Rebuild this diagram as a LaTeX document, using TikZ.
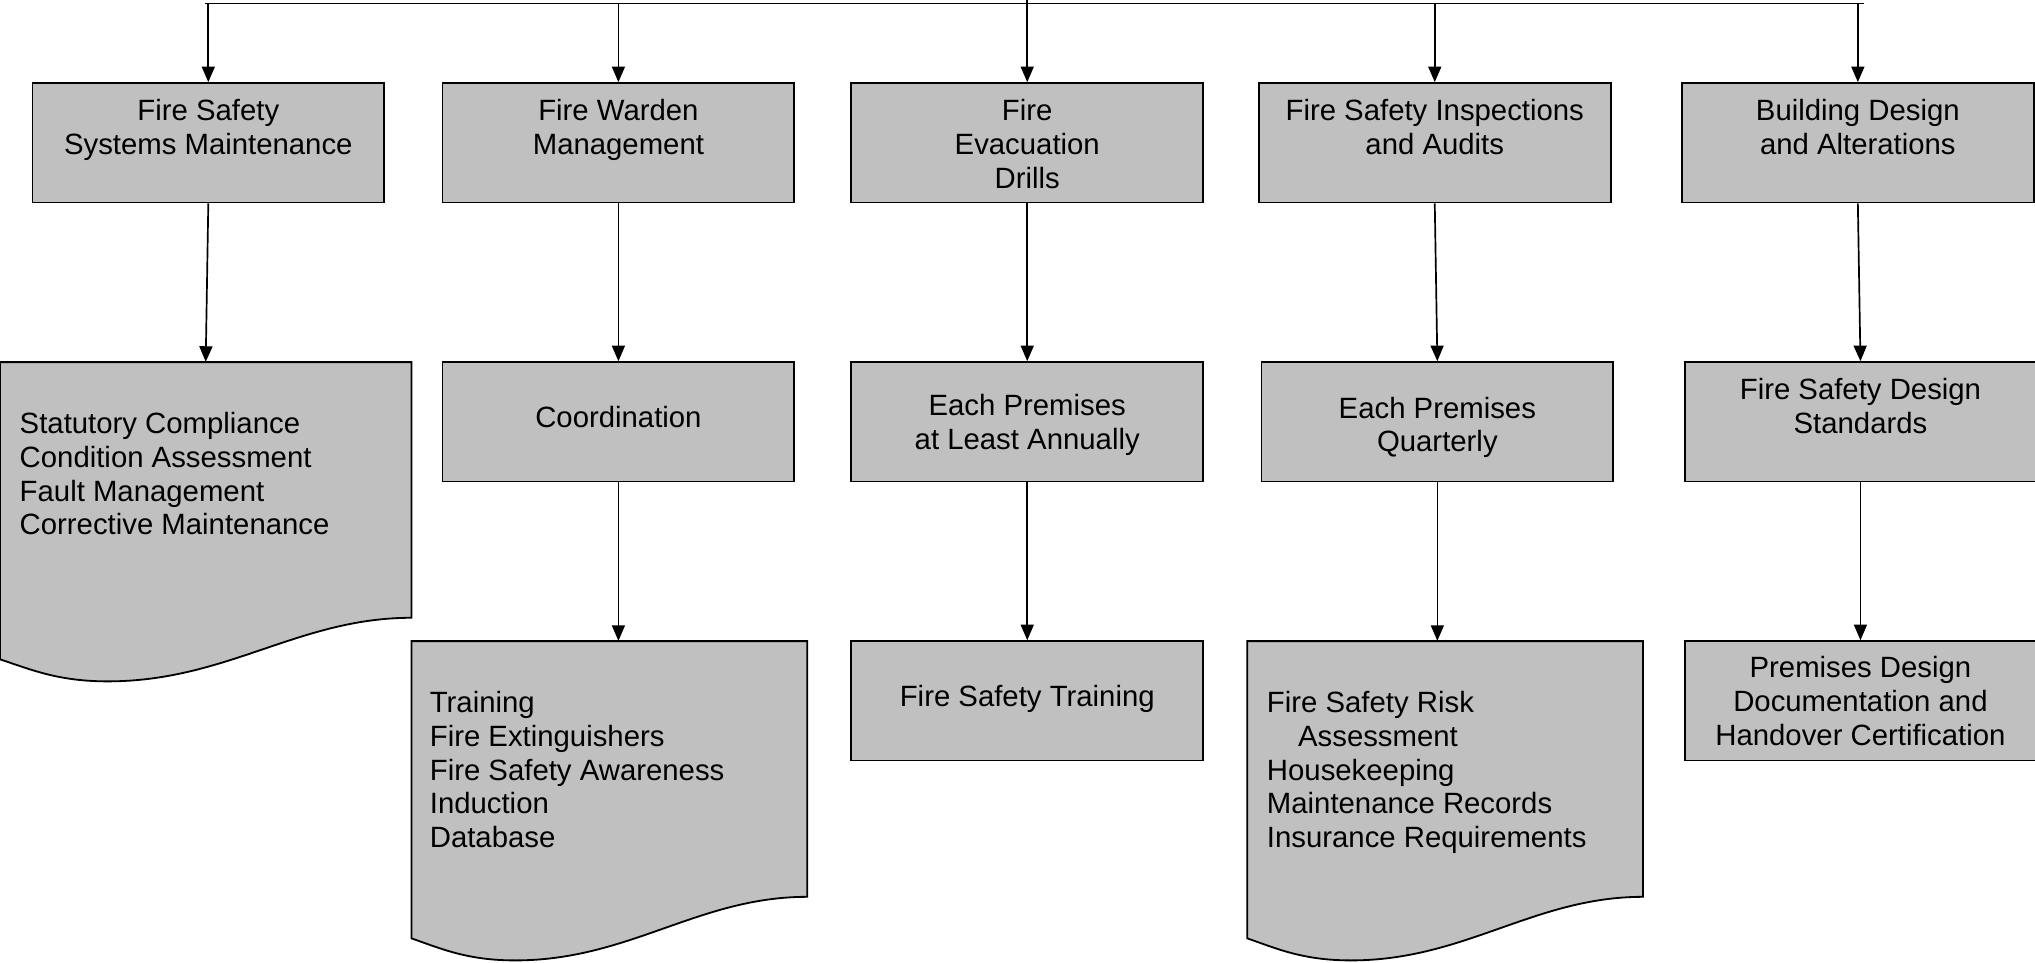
\documentclass[tikz,border=0pt]{standalone}
\usepackage{fontspec}
\setmainfont{Liberation Sans}
\usetikzlibrary{arrows.meta}
\definecolor{boxgray}{HTML}{C0C0C0}
\begin{document}
\begin{tikzpicture}[x=1pt,y=-1pt,
  box/.style={draw=black, fill=boxgray, line width=1.4pt, rectangle, inner sep=0pt, minimum width=271pt, minimum height=92pt},
  doc/.style={draw=black, fill=boxgray, line width=1.4pt, line join=miter},
  docarea/.style={rectangle, inner sep=0pt},
  lbl/.style={inner sep=0pt, font=\fontsize{22.6}{26}\selectfont, align=center, anchor=north},
  lbll/.style={inner sep=0pt, font=\fontsize{22.6}{26}\selectfont, align=left, anchor=north west},
  arr/.style={-{Triangle[length=12pt,width=10pt]}, line width=1.3pt},
  ln/.style={line width=1.3pt}]
\useasboundingbox (0,0) rectangle (1568,742);

% document shapes
\draw[doc] (0,279) -- (317,279) -- (317,476) .. controls (230,476) and (175,525) .. (83,525) .. controls (45,525) and (24,516) .. (0,508) -- cycle;
\draw[doc] (317,494) -- (622,494) -- (622,691) .. controls (538,691) and (485,740) .. (397,740) .. controls (360,740) and (340,731) .. (317,723) -- cycle;
\draw[doc] (961,494) -- (1266,494) -- (1266,691) .. controls (1182,691) and (1129,740) .. (1041,740) .. controls (1004,740) and (984,731) .. (961,723) -- cycle;
\node[docarea, minimum width=317pt, minimum height=197pt] (d1) at (158.5,377.5) {};
\node[docarea, minimum width=305pt, minimum height=197pt] (d2) at (469.5,592.5) {};
\node[docarea, minimum width=305pt, minimum height=197pt] (d4) at (1113.5,592.5) {};

% row 1
\node[box] (b1) at (160.5,110) {};
\node[box] (b2) at (476.5,110) {};
\node[box] (b3) at (791.5,110) {};
\node[box] (b4) at (1105.5,110) {};
\node[box] (b5) at (1431.5,110) {};
% row 2
\node[box] (c2) at (476.5,325) {};
\node[box] (c3) at (791.5,325) {};
\node[box] (c4) at (1107.5,325) {};
\node[box] (c5) at (1433.5,325) {};
% row 3
\node[box] (e3) at (791.5,540) {};
\node[box] (e5) at (1433.5,540) {};

% labels
\node[lbl] (tb1) at (160.5,74.7) {\strut Fire Safety\\Systems Maintenance};
\node[lbl] (tb2) at (476.5,74.7) {\strut Fire Warden\\Management};
\node[lbl] (tb3) at (791.5,74.7) {\strut Fire\\Evacuation\\Drills};
\node[lbl] (tb4) at (1105.5,74.7) {\strut Fire Safety Inspections\\and Audits};
\node[lbl] (tb5) at (1431.5,74.7) {\strut Building Design\\and Alterations};
\node[lbl] (tc2) at (476.5,310.7) {\strut Coordination};
\node[lbl] (tc3) at (791.5,301.7) {\strut Each Premises\\at Least Annually};
\node[lbl] (tc4) at (1107.5,303.7) {\strut Each Premises\\Quarterly};
\node[lbl] (tc5) at (1433.5,289.7) {\strut Fire Safety Design\\Standards};
\node[lbl] (te3) at (791.5,525.7) {\strut Fire Safety Training};
\node[lbl] (te5) at (1433.5,503.7) {\strut Premises Design\\Documentation and\\Handover Certification};
\node[lbll] (td1) at (15,315.7) {\strut Statutory Compliance\\Condition Assessment\\Fault Management\\Corrective Maintenance};
\node[lbll] (td2) at (331,530.7) {\strut Training\\Fire Extinguishers\\Fire Safety Awareness\\Induction\\Database};
\node[lbll] (td4) at (976,530.7) {\strut Fire Safety Risk\\\hspace*{24pt}Assessment\\Housekeeping\\Maintenance Records\\Insurance Requirements};

% top bus
\coordinate (top) at (0,2.7);
\coordinate (topL) at (158,2.7);
\coordinate (topR) at (1436,2.7);
\draw[ln] (topL) -- (topR);
\draw[arr] (b1.north |- top) -- (b1.north);
\draw[arr] (b2.north |- top) -- (b2.north);
\draw[arr] (b3.north |- 0,0) -- (b3.north);
\draw[arr] (b4.north |- top) -- (b4.north);
\draw[arr] (b5.north |- top) -- (b5.north);

% row1 -> row2
\draw[arr] (b1.south) -- (d1.north);
\draw[arr] (b2.south) -- (c2.north);
\draw[arr] (b3.south) -- (c3.north);
\draw[arr] (b4.south) -- (c4.north);
\draw[arr] (b5.south) -- (c5.north);
% row2 -> row3
\draw[arr] (c2.south) -- (c2.south |- d2.north);
\draw[arr] (c3.south) -- (e3.north);
\draw[arr] (c4.south) -- (c4.south |- d4.north);
\draw[arr] (c5.south) -- (e5.north);
\end{tikzpicture}
\end{document}
